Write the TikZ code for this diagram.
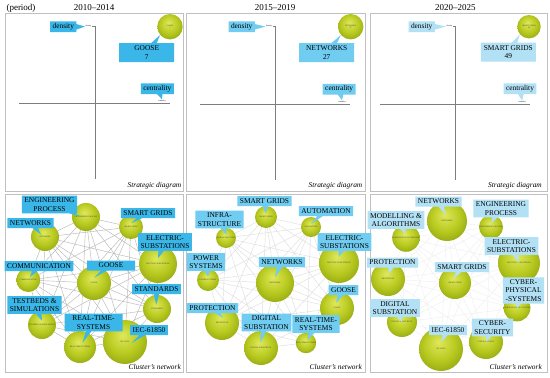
\documentclass[tikz,border=0pt]{standalone}
\usepackage{fontspec}
\setmainfont{Liberation Serif}
\usetikzlibrary{shapes.callouts,calc,backgrounds}
\definecolor{clrA}{RGB}{58,183,232}
\definecolor{clrB}{RGB}{112,204,240}
\definecolor{clrC}{RGB}{178,225,246}
\definecolor{bubIn}{RGB}{224,232,90}
\definecolor{bubMid}{RGB}{184,202,32}
\definecolor{bubOut}{RGB}{106,126,0}
\definecolor{clrAxis}{RGB}{125,125,125}
\definecolor{clrFrame}{RGB}{192,192,192}
\pgfdeclareradialshading{bubble}{\pgfpoint{-3bp}{8bp}}{color(0bp)=(bubIn); color(18bp)=(bubMid); color(46bp)=(bubOut); color(50bp)=(bubOut)}
\newcommand{\lblfont}{\fontsize{7.4}{8.6}\selectfont}
\newcommand{\tinyfont}{\fontsize{2}{2.3}\selectfont}
\newcommand{\headfont}{\fontsize{9}{10}\selectfont}
\newcommand{\clusterA}{b4eng,b4sg,b4net,b4es,b4com,b4goose,b4std,b4tst,b4rts,b4iec}
\newcommand{\clusterB}{b5sg,b5aut,b5inf,b5es,b5pow,b5net,b5goose,b5pro,b5dig,b5rts}
\newcommand{\clusterC}{b6net,b6eng,b6mod,b6es,b6pro,b6sg,b6cps,b6dig,b6iec,b6cs}
\tikzset{
  frame/.style={draw=clrFrame,line width=0.6pt},
  axisline/.style={draw=clrAxis,line width=0.6pt},
  bubble/.style={circle,inner sep=0pt,minimum size=#1,shade,shading=bubble,
    font=\tinyfont,align=center,text=black!75},
  tag/.style={rectangle callout,font=\lblfont,align=center,inner xsep=2.5pt,
    inner ysep=2pt,minimum height=10pt,callout pointer width=5.5pt},
  tagA/.style={tag,fill=clrA},
  tagB/.style={tag,fill=clrB},
  tagC/.style={tag,fill=clrC},
  valbox/.style={minimum width=55pt,minimum height=19pt},
  aim/.style 2 args={callout absolute pointer={($(#1)!.3!(#1.#2)$)}},
  mini/.style={font=\tinyfont,inner sep=0.5pt},
  caption/.style={font=\lblfont\itshape,anchor=base east,inner sep=0pt},
  head/.style={font=\headfont,anchor=base,inner sep=0pt},
  linkA/.style={draw=gray!55,line width=0.45pt},
  linkB/.style={draw=gray!25,line width=0.45pt},
  linkC/.style={draw=gray!12,line width=0.45pt}
}
\begin{document}
\begin{tikzpicture}[x=1pt,y=-1pt]
  \useasboundingbox (0,0) rectangle (550,378);
  \begin{scope}[on background layer]
    \fill[white] (0,0) rectangle (550,378);
  \end{scope}
  \draw[frame] (5,13) rectangle (183,191);
  \draw[frame] (186.5,13) rectangle (365.5,191);
  \draw[frame] (370,13) rectangle (547.5,191);
  \draw[frame] (5,194) rectangle (183,372.5);
  \draw[frame] (186.5,194) rectangle (365.5,372.5);
  \draw[frame] (370,194) rectangle (547.5,372.5);
  \node[head] (hp) at (21,10) {(period)};
  \node[head] (h1) at (94.2,10) {2010--2014};
  \node[head] (h2) at (275,10) {2015--2019};
  \node[head] (h3) at (455.3,10) {2020--2025};
  \node[caption] (s1) at (181.5,187.5) {Strategic diagram};
  \node[caption] (s2) at (362.5,187.5) {Strategic diagram};
  \node[caption] (s3) at (542,187.5) {Strategic diagram};
  \node[caption] (n1) at (181,369.5) {Cluster’s network};
  \node[caption] (n2) at (362,369.5) {Cluster’s network};
  \node[caption] (n3) at (542,369.5) {Cluster’s network};

  \node[mini] (d1) at (88.5,26.5) {density};
  \coordinate (v1) at (95,178.5);
  \draw[axisline] (d1.east) -| (v1);
  \coordinate (h1w) at (19,103);
  \coordinate (h1e) at (170,103);
  \draw[axisline] (h1w) -- (h1e);
  \node[mini,anchor=south] (c1) at (162,102.5) {centrality};
  \node[bubble=25.4pt] (g1) at (170,26.7) {GOOSE\\7};
  \node[tagA,callout absolute pointer={(d1.west)}] (td1) at (63.3,26.7) {density};
  \node[tagA,callout absolute pointer={(c1.north)}] (tc1) at (157.3,88.7) {centrality};
  \node[tagA,valbox,callout absolute pointer={(g1.-140)}] (tg1) at (146.7,52.5) {GOOSE\\7};

  \node[mini] (d2) at (269,26.5) {density};
  \coordinate (v2) at (275.7,179.5);
  \draw[axisline] (d2.east) -| (v2);
  \coordinate (h2w) at (200,104);
  \coordinate (h2e) at (350,104);
  \draw[axisline] (h2w) -- (h2e);
  \node[mini,anchor=south] (c2) at (342,103.5) {centrality};
  \node[bubble=25.4pt] (g2) at (350.7,26.7) {NETWORKS\\27};
  \node[tagB,callout absolute pointer={(d2.west)}] (td2) at (241.7,26.7) {density};
  \node[tagB,callout absolute pointer={(c2.north)}] (tc2) at (339.2,89.2) {centrality};
  \node[tagB,valbox,callout absolute pointer={(g2.-140)}] (tg2) at (326.7,52.5) {NETWORKS\\27};

  \node[mini] (d3) at (449.5,26.5) {density};
  \coordinate (v3) at (455.7,180);
  \draw[axisline] (d3.east) -| (v3);
  \coordinate (h3w) at (380,104.5);
  \coordinate (h3e) at (530,104.5);
  \draw[axisline] (h3w) -- (h3e);
  \node[mini,anchor=south] (c3) at (522,104) {centrality};
  \node[bubble=23.4pt] (g3) at (529,26.7) {SMART GRIDS\\49};
  \node[tagC,callout absolute pointer={(d3.west)}] (td3) at (421.7,26.7) {density};
  \node[tagC,callout absolute pointer={(c3.north)}] (tc3) at (520,88.8) {centrality};
  \node[tagC,valbox,callout absolute pointer={(g3.-140)}] (tg3) at (508.3,52.2) {SMART GRIDS\\49};

  \node[bubble=28pt] (b4eng) at (86,217) {ENGINEERING PROCESS};
  \node[bubble=24pt] (b4sg) at (131,227) {SMART GRIDS};
  \node[bubble=28pt] (b4net) at (45,237) {NETWORKS};
  \node[bubble=38pt] (b4es) at (158,264) {ELECTRIC-SUBSTATIONS};
  \node[bubble=24pt] (b4com) at (28.3,280) {COMMUNICATION};
  \node[bubble=34pt] (b4goose) at (94,283) {GOOSE};
  \node[bubble=28pt] (b4std) at (157,309) {STANDARDS};
  \node[bubble=28pt] (b4tst) at (42,325) {TESTBEDS \& SIMULATIONS};
  \node[bubble=32pt] (b4rts) at (80,347) {REAL-TIME-SYSTEMS};
  \node[bubble=44pt] (b4iec) at (125,342) {IEC-61850};

  \node[bubble=22pt] (b5sg) at (266,217) {SMART GRIDS};
  \node[bubble=20pt] (b5aut) at (311,227) {AUTOMATION};
  \node[bubble=20pt] (b5inf) at (226,238) {INFRA-STRUCTURE};
  \node[bubble=40pt] (b5es) at (339,263) {ELECTRIC-SUBSTATIONS};
  \node[bubble=22pt] (b5pow) at (208,280) {POWER SYSTEMS};
  \node[bubble=38pt] (b5net) at (275,283) {NETWORKS};
  \node[bubble=34pt] (b5goose) at (337,308) {GOOSE};
  \node[bubble=34pt] (b5pro) at (222,323) {PROTECTION};
  \node[bubble=34pt] (b5dig) at (261,348) {DIGITAL SUBSTATION};
  \node[bubble=14pt] (b5rts) at (306,343) {REAL-TIME-SYSTEMS};

  \node[bubble=40pt] (b6net) at (447,221) {NETWORKS};
  \node[bubble=24pt] (b6eng) at (491,227) {ENGINEERING PROCESS};
  \node[bubble=24pt] (b6mod) at (406,238) {MODELLING \& ALGORITHMS};
  \node[bubble=42pt] (b6es) at (519,263) {ELECTRIC-SUBSTATIONS};
  \node[bubble=34pt] (b6pro) at (388,279) {PROTECTION};
  \node[bubble=32pt] (b6sg) at (455,283) {SMART GRIDS};
  \node[bubble=18pt] (b6cps) at (517,308) {CYBER-PHYSICAL-SYSTEMS};
  \node[bubble=30pt] (b6dig) at (402,322) {DIGITAL SUBSTATION};
  \node[bubble=44pt] (b6iec) at (441,349) {IEC-61850};
  \node[bubble=34pt] (b6cs) at (486,342) {CYBER-SECURITY};

  \begin{scope}[on background layer]
    \foreach \a [count=\i] in \clusterA {
      \foreach \b [count=\j] in \clusterA {
        \ifnum\j>\i \draw[linkA] (\a) -- (\b); \fi
      }
    }
    \foreach \a [count=\i] in \clusterB {
      \foreach \b [count=\j] in \clusterB {
        \ifnum\j>\i \draw[linkB] (\a) -- (\b); \fi
      }
    }
    \foreach \a [count=\i] in \clusterC {
      \foreach \b [count=\j] in \clusterC {
        \ifnum\j>\i \draw[linkC] (\a) -- (\b); \fi
      }
    }
  \end{scope}

  \node[tagA,aim={b4eng}{180}] (t4eng) at (49.5,204.5) {ENGINEERING\\PROCESS};
  \node[tagA,aim={b4sg}{90}] (t4sg) at (148,213) {SMART GRIDS};
  \node[tagA,aim={b4net}{150}] (t4net) at (30.5,223) {NETWORKS};
  \node[tagA,aim={b4es}{90}] (t4es) at (165,242) {ELECTRIC-\\SUBSTATIONS};
  \node[tagA,aim={b4com}{60}] (t4com) at (39,266) {COMMUNICATION};
  \node[tagA,aim={b4goose}{90},minimum width=48pt] (t4goose) at (111,265.5) {GOOSE};
  \node[tagA,aim={b4std}{100}] (t4std) at (156.5,289) {STANDARDS};
  \node[tagA,aim={b4tst}{90}] (t4tst) at (34.5,305) {TESTBEDS \&\\SIMULATIONS};
  \node[tagA,aim={b4rts}{60},minimum width=58pt] (t4rts) at (93.5,322.5) {REAL-TIME-\\SYSTEMS};
  \node[tagA,aim={b4iec}{-10}] (t4iec) at (149,330) {IEC-61850};

  \node[tagB,aim={b5sg}{90}] (t5sg) at (264.5,201) {SMART GRIDS};
  \node[tagB,aim={b5aut}{90}] (t5aut) at (326,211) {AUTOMATION};
  \node[tagB,aim={b5inf}{80}] (t5inf) at (219.5,219.5) {INFRA-\\STRUCTURE};
  \node[tagB,aim={b5es}{90}] (t5es) at (344.5,242) {ELECTRIC-\\SUBSTATIONS};
  \node[tagB,aim={b5pow}{90}] (t5pow) at (206,262) {POWER\\SYSTEMS};
  \node[tagB,aim={b5net}{90}] (t5net) at (282,262) {NETWORKS};
  \node[tagB,aim={b5goose}{100}] (t5goose) at (343.5,290) {GOOSE};
  \node[tagB,aim={b5pro}{80}] (t5pro) at (212.5,308) {PROTECTION};
  \node[tagB,aim={b5dig}{100}] (t5dig) at (266.5,322.5) {DIGITAL\\SUBSTATION};
  \node[tagB,aim={b5rts}{60}] (t5rts) at (316,324) {REAL-TIME-\\SYSTEMS};

  \node[tagC,aim={b6net}{100}] (t6net) at (438.5,201.5) {NETWORKS};
  \node[tagC,aim={b6eng}{90}] (t6eng) at (501,208.5) {ENGINEERING\\PROCESS};
  \node[tagC,aim={b6mod}{90}] (t6mod) at (396,220) {MODELLING \&\\ALGORITHMS};
  \node[tagC,aim={b6es}{center}] (t6es) at (511.5,246) {ELECTRIC-\\SUBSTATIONS};
  \node[tagC,aim={b6pro}{80}] (t6pro) at (392.5,262.5) {PROTECTION};
  \node[tagC,aim={b6sg}{100}] (t6sg) at (462,267) {SMART GRIDS};
  \node[tagC,aim={b6cps}{center}] (t6cps) at (523.5,290.5) {CYBER-\\PHYSICAL\\-SYSTEMS};
  \node[tagC,aim={b6dig}{center}] (t6dig) at (395,308) {DIGITAL\\SUBSTATION};
  \node[tagC,aim={b6iec}{90}] (t6iec) at (448,330) {IEC-61850};
  \node[tagC,aim={b6cs}{center}] (t6cs) at (492.5,327.5) {CYBER-\\SECURITY};
\end{tikzpicture}
\end{document}
